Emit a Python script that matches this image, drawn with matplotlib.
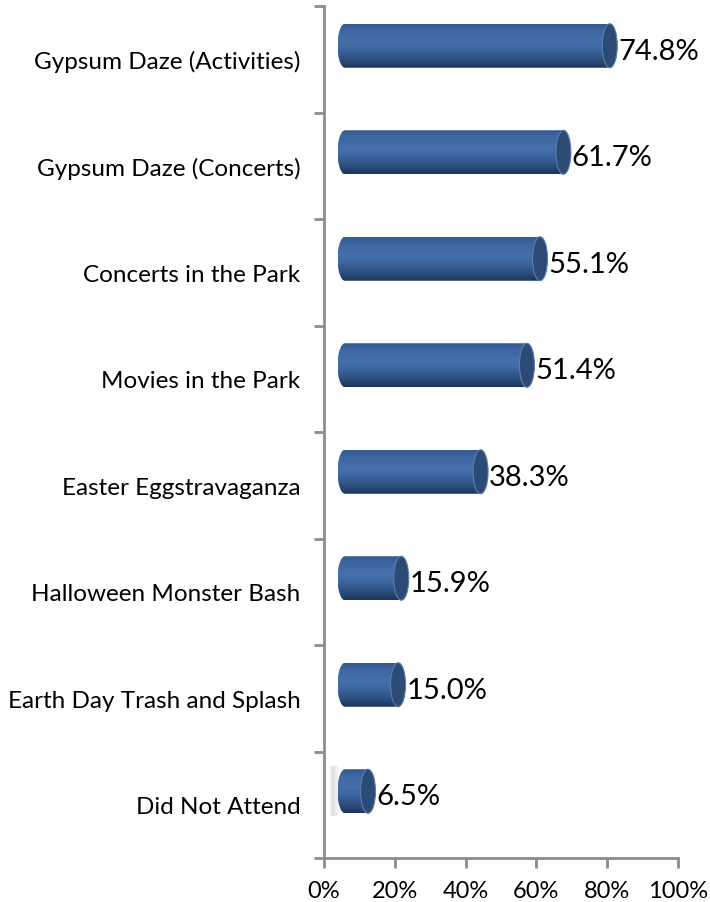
import matplotlib
matplotlib.use("Agg")
import matplotlib.pyplot as plt
import numpy as np
from matplotlib.patches import Ellipse, Rectangle, PathPatch
from matplotlib.path import Path
from matplotlib.colors import LinearSegmentedColormap

categories = ["Gypsum Daze (Activities)", "Gypsum Daze (Concerts)", "Concerts in the Park",
              "Movies in the Park", "Easter Eggstravaganza", "Halloween Monster Bash",
              "Earth Day Trash and Splash", "Did Not Attend"]
values = [74.8, 61.7, 55.1, 51.4, 38.3, 15.9, 15.0, 6.5]
xticks = [0, 20, 40, 60, 80, 100]
xticklabels = ["0%", "20%", "40%", "60%", "80%", "100%"]

plt.rcParams['font.family'] = ['Lato', 'DejaVu Sans']

W, H = 710, 903
fig = plt.figure(figsize=(W / 100, H / 100), dpi=100)
L, R, B, T = 324, 678, 859, 7
ax = fig.add_axes([L / W, 1 - B / H, (R - L) / W, (B - T) / H])
ax.set_xlim(0, 100)
n = len(categories)
ax.set_ylim(n - 0.5, -0.5)

px_x = 100 / (R - L)          # data units per pixel in x
px_y = n / (B - T)            # data units per pixel in y
dx = 21 * px_x                # 3D depth shift right
dy = 13.5 * px_y              # 3D depth shift up
bh = 44 * px_y                # bar thickness
ew = 15 * px_x                # ellipse width of cylinder ends

cmap = LinearSegmentedColormap.from_list("cyl", [
    (0.0, "#36598a"), (0.15, "#3e66a0"), (0.4, "#4571aa"), (0.6, "#3c659c"),
    (0.85, "#2a4a78"), (1.0, "#1d3556")])
grad = np.linspace(0, 1, 256).reshape(-1, 1)

for i, v in enumerate(values):
    yc = i - dy
    x0 = dx
    x1 = v + dx
    im = ax.imshow(grad, aspect='auto', cmap=cmap,
                   extent=(x0 - ew / 2, x1, yc + bh / 2, yc - bh / 2),
                   zorder=2, interpolation='bilinear')
    verts = [(x1, yc - bh / 2), (x0, yc - bh / 2)]
    t = np.linspace(np.pi / 2, 3 * np.pi / 2, 60)
    verts += [(x0 + ew / 2 * np.cos(a), yc - bh / 2 * np.sin(a)) for a in t]
    verts += [(x0, yc + bh / 2), (x1, yc + bh / 2), (x1, yc - bh / 2)]
    pp = PathPatch(Path(verts), facecolor='none', edgecolor='none', transform=ax.transData)
    ax.add_patch(pp)
    im.set_clip_path(pp)
    cap = Ellipse((x1, yc), ew, bh, facecolor="#2b4a74", edgecolor="#5a7db0",
                  linewidth=0.8, zorder=3)
    ax.add_patch(cap)
    ax.text(x1 + ew / 2 + 0.2, i - 0.08, f"{v:.1f}%", va='center', ha='left',
            fontsize=21, color='black', zorder=4)

# faint floor shadow near the smallest bar
for k, a in enumerate([0.25, 0.4, 0.25]):
    ax.add_patch(Rectangle((dx - ew * (1.0 - 0.15 * k), n - 1 - dy - bh / 2 - 0.03),
                           ew * 0.2, bh + 0.06, facecolor="#bdbdbd", edgecolor='none',
                           alpha=a, zorder=1))

ax.set_yticks(range(n))
ax.set_yticklabels(categories, fontsize=17.5)
ax.set_yticks(np.arange(-0.5, n, 1), minor=True)
ax.tick_params(axis='y', which='major', length=0, pad=17)
ax.tick_params(axis='y', which='minor', length=7, width=2, color="#8c8c8c", direction='out')
ax.set_xticks(xticks)
ax.set_xticklabels(xticklabels, fontsize=17)
ax.tick_params(axis='x', length=7, width=2, color="#8c8c8c", direction='out', pad=9)

for s in ['top', 'right']:
    ax.spines[s].set_visible(False)
for s in ['left', 'bottom']:
    ax.spines[s].set_color("#8c8c8c")
    ax.spines[s].set_linewidth(2)

fig.savefig("out.png", dpi=100)
